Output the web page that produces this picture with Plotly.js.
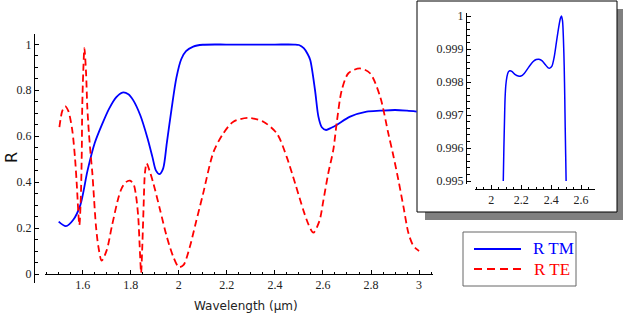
<!DOCTYPE html>
<html><head><meta charset="utf-8">
<script src="https://cdn.plot.ly/plotly-3.0.1.min.js"></script>
<style>html,body{margin:0;padding:0;background:#fff}#chart{width:623px;height:314px}</style>
</head><body><div id="chart"></div>
<script>
// ---- data ----
const tmX = [1.50,1.53,1.56,1.59,1.62,1.65,1.68,1.71,1.74,1.765,1.79,1.81,1.84,1.87,1.89,1.905,1.92,1.935,1.95,1.97,1.99,2.01,2.03,2.06,2.10,2.20,2.30,2.40,2.48,2.50,2.52,2.535,2.547,2.567,2.581,2.595,2.613,2.635,2.657,2.713,2.782,2.838,2.90,2.95,2.99];
const tmY = [0.228,0.208,0.235,0.30,0.45,0.57,0.65,0.72,0.77,0.79,0.783,0.757,0.69,0.59,0.51,0.45,0.435,0.46,0.57,0.72,0.855,0.935,0.97,0.99,0.998,0.999,0.999,0.999,0.999,0.997,0.983,0.96,0.932,0.80,0.685,0.639,0.627,0.637,0.649,0.685,0.707,0.711,0.714,0.711,0.707];

const teX = [1.503,1.515,1.527,1.540,1.556,1.568,1.575,1.586,1.592,1.596,1.598,1.602,1.607,1.614,1.619,1.626,1.633,1.640,1.647,1.655,1.665,1.679,1.700,1.721,1.748,1.762,1.780,1.797,1.812,1.822,1.831,1.838,1.843,1.848,1.853,1.859,1.866,1.878,1.894,1.922,1.950,1.977,2.000,2.020,2.045,2.070,2.100,2.144,2.185,2.227,2.289,2.352,2.408,2.449,2.484,2.518,2.540,2.560,2.585,2.602,2.622,2.643,2.657,2.678,2.706,2.754,2.796,2.838,2.872,2.893,2.914,2.935,2.956,2.975,2.990,3.000];
const teY = [0.639,0.71,0.73,0.71,0.63,0.504,0.395,0.213,0.33,0.525,0.728,0.874,0.983,0.874,0.728,0.61,0.52,0.44,0.33,0.21,0.12,0.058,0.104,0.206,0.33,0.373,0.40,0.406,0.39,0.34,0.25,0.10,0.005,0.12,0.28,0.44,0.482,0.45,0.395,0.279,0.162,0.075,0.03,0.04,0.115,0.22,0.345,0.53,0.612,0.663,0.68,0.663,0.612,0.51,0.395,0.279,0.215,0.18,0.23,0.322,0.438,0.54,0.656,0.80,0.874,0.895,0.874,0.772,0.612,0.515,0.409,0.293,0.177,0.125,0.108,0.10];

const zoomX = [2.080,2.084,2.088,2.092,2.097,2.104,2.113,2.125,2.137,2.16,2.18,2.198,2.22,2.25,2.28,2.30,2.318,2.34,2.36,2.38,2.391,2.405,2.42,2.435,2.45,2.462,2.469,2.476,2.482,2.487,2.491,2.494,2.497,2.500];
const zoomY = [0.995,0.9960,0.9968,0.9975,0.9979,0.99815,0.99830,0.99834,0.99832,0.99822,0.99818,0.99818,0.99826,0.99845,0.99862,0.99868,0.99869,0.99864,0.99853,0.99843,0.99842,0.99848,0.99875,0.99920,0.99965,0.99993,1.0,0.99985,0.9993,0.9985,0.9975,0.9966,0.9958,0.995];

const mainXTicks = [1.6,1.8,2,2.2,2.4,2.6,2.8,3];
const mainXLabels = ['1.6','1.8','2','2.2','2.4','2.6','2.8','3'];
const mainYTicks = [0,0.2,0.4,0.6,0.8,1];
const mainYLabels = ['0','0.2','0.4','0.6','0.8','1'];
const insetXTicks = [2,2.2,2.4,2.6];
const insetXLabels = ['2','2.2','2.4','2.6'];
const insetYTicks = [0.995,0.996,0.997,0.998,0.999,1];
const insetYLabels = ['0.995','0.996','0.997','0.998','0.999','1'];
const seriesNames = ['R TM','R TE'];

// ---- layout helpers (pixel -> paper fractions, margins are zero) ----
const W = 623, H = 314;
const px = v => v / W;
const py = v => (H - v) / H;
const tickFont = {family: 'Liberation Serif, serif', size: 12, color: '#222'};

function axisBase(extra) {
  return Object.assign({
    showline: true, linecolor: '#000', linewidth: 1,
    ticks: 'inside', ticklen: 4, tickwidth: 1, tickcolor: '#000',
    showgrid: false, zeroline: false, tickfont: tickFont,
    tickmode: 'array', fixedrange: true
  }, extra);
}

const traces = [
  {x: tmX, y: tmY, xaxis: 'x', yaxis: 'y', mode: 'lines', name: seriesNames[0],
   line: {color: '#0000ff', width: 1.8, shape: 'spline', smoothing: 0.8}, hoverinfo: 'skip'},
  {x: teX, y: teY, xaxis: 'x', yaxis: 'y', mode: 'lines', name: seriesNames[1],
   line: {color: '#ff0000', width: 1.8, dash: '7px,4px', shape: 'spline', smoothing: 0.8}, hoverinfo: 'skip'},
  {x: zoomX, y: zoomY, xaxis: 'x2', yaxis: 'y2', mode: 'lines', name: seriesNames[0],
   line: {color: '#0000ff', width: 1.5, shape: 'spline', smoothing: 0.8}, hoverinfo: 'skip'}
];

const layout = {
  width: W, height: H,
  margin: {l: 0, r: 0, t: 0, b: 0, pad: 0},
  paper_bgcolor: '#fff', plot_bgcolor: 'rgba(0,0,0,0)',
  showlegend: false,
  xaxis: axisBase({domain: [px(45), px(433)], range: [1.443, 3.058], anchor: 'free', position: py(274),
    tickvals: mainXTicks, ticktext: mainXLabels,
    minor: {dtick: 0.05, tick0: 0, ticks: 'inside', ticklen: 2.5, tickcolor: '#000', showgrid: false}}),
  yaxis: axisBase({domain: [py(283), py(34)], range: [-0.0392, 1.0449], anchor: 'free', position: px(34),
    tickvals: mainYTicks, ticktext: mainYLabels,
    minor: {dtick: 0.05, tick0: 0, ticks: 'inside', ticklen: 2.5, tickcolor: '#000', showgrid: false}}),
  xaxis2: axisBase({domain: [px(474.7), px(595.3)], range: [1.889, 2.695], anchor: 'free', position: py(189),
    tickvals: insetXTicks, ticktext: insetXLabels,
    minor: {dtick: 0.05, tick0: 0, ticks: 'inside', ticklen: 2.5, tickcolor: '#000', showgrid: false}}),
  yaxis2: axisBase({domain: [py(184), py(13)], range: [0.994909, 1.000091], anchor: 'free', position: px(466),
    tickvals: insetYTicks, ticktext: insetYLabels,
    minor: {dtick: 0.0002, tick0: 0.995, ticks: 'inside', ticklen: 2.5, tickcolor: '#000', showgrid: false}}),
  shapes: [
    {type: 'rect', xref: 'paper', yref: 'paper', x0: px(425), x1: px(630), y0: py(220), y1: py(9),
     fillcolor: '#808080', line: {width: 0}, layer: 'below'},
    {type: 'rect', xref: 'paper', yref: 'paper', x0: px(417), x1: px(617), y0: py(212), y1: py(1),
     fillcolor: '#fff', line: {color: '#000', width: 1}, layer: 'below'},
    {type: 'rect', xref: 'paper', yref: 'paper', x0: px(463), x1: px(576), y0: py(286), y1: py(232),
     fillcolor: '#fff', line: {color: '#666', width: 1}},
    {type: 'line', xref: 'paper', yref: 'paper', x0: px(474), x1: px(521), y0: py(249), y1: py(249),
     line: {color: '#0000ff', width: 1.8}},
    {type: 'line', xref: 'paper', yref: 'paper', x0: px(474), x1: px(523), y0: py(269), y1: py(269),
     line: {color: '#ff0000', width: 1.8, dash: '8px,5px'}}
  ],
  annotations: [
    {text: 'Wavelength (μm)', xref: 'paper', yref: 'paper', x: px(246), y: py(306),
     xanchor: 'center', yanchor: 'middle', showarrow: false,
     font: {family: 'DejaVu Sans, sans-serif', size: 12, color: '#222'}},
    {text: 'R', xref: 'paper', yref: 'paper', x: px(11), y: py(158), textangle: -90,
     xanchor: 'center', yanchor: 'middle', showarrow: false, borderpad: 0,
     font: {family: 'DejaVu Sans, sans-serif', size: 16, color: '#111'}},
    {text: seriesNames[0], xref: 'paper', yref: 'paper', x: px(531), y: py(249),
     xanchor: 'left', yanchor: 'middle', showarrow: false,
     font: {family: 'Liberation Serif, serif', size: 17, color: '#0000ff'}},
    {text: seriesNames[1], xref: 'paper', yref: 'paper', x: px(532), y: py(269),
     xanchor: 'left', yanchor: 'middle', showarrow: false,
     font: {family: 'Liberation Serif, serif', size: 17, color: '#ff0000'}}
  ]
};

Plotly.newPlot('chart', traces, layout, {staticPlot: true, displayModeBar: false});
</script>
</body></html>
